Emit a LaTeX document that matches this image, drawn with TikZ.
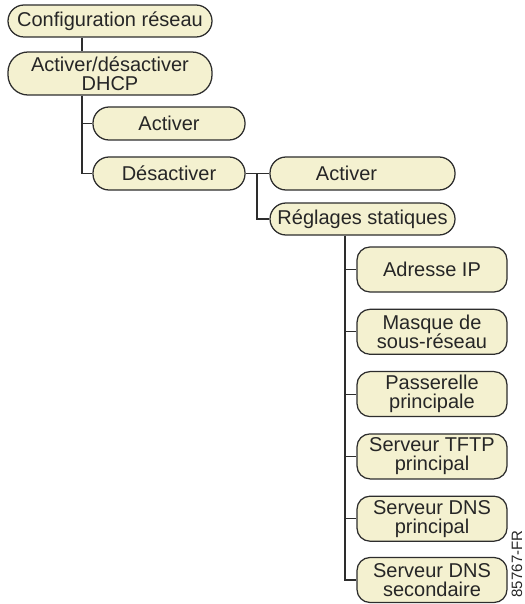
\documentclass[tikz,border=0pt]{standalone}
\usepackage{fontspec}
\setmainfont{Liberation Sans}
\definecolor{boxfill}{RGB}{244,241,208}
\definecolor{linec}{RGB}{45,45,45}
\begin{document}
\begin{tikzpicture}[x=1pt,y=-1pt,
  box/.style={draw=linec, fill=boxfill, line width=1.25pt, align=center,
    font=\fontsize{20}{19}\selectfont, inner sep=0pt, text=black!85},
  pill/.style={box, rounded corners=16pt, minimum height=33pt},
  rbox/.style={box, rounded corners=13pt, minimum width=150pt, minimum height=45pt},
  conn/.style={draw=linec, line width=1.1pt}]
\useasboundingbox (0,0) rectangle (524,604);
\fill[white] (0,0) rectangle (524,604);

\node[pill, minimum width=204pt, minimum height=32pt] (conf) at (110,21) {Configuration réseau};
\node[box, rounded corners=20pt, minimum width=204pt, minimum height=43pt] (dhcp) at (110,73.5) {Activer/désactiver\\DHCP};
\node[pill, minimum width=152pt] (act1) at (169,123.5) {Activer};
\node[pill, minimum width=152pt] (des) at (169,173.5) {Désactiver};
\node[pill, minimum width=185pt] (act2) at (362.5,173.5) {\hspace*{-32pt}Activer};
\node[pill, minimum width=185pt, minimum height=32pt] (regl) at (362.5,219) {Réglages statiques};

\node[rbox] (ip) at (432,269.5) {Adresse IP};
\node[rbox] (masque) at (432,331.8) {Masque de\\sous-réseau};
\node[rbox] (pass) at (432,394.1) {Passerelle\\principale};
\node[rbox] (tftp) at (432,456.4) {Serveur TFTP\\principal};
\node[rbox] (dns1) at (432,518.7) {Serveur DNS\\principal};
\node[rbox] (dns2) at (432,580) {Serveur DNS\\secondaire};

\node[rotate=90, font=\fontsize{15}{16}\selectfont, inner sep=0pt, text=black!85] (code) at (517,564) {85767-FR};

\coordinate (tA) at (82,0);
\coordinate (tB) at (257,0);
\coordinate (tC) at (345,0);

\draw[conn] (conf.south -| tA) -- (dhcp.north -| tA);
\draw[conn] (dhcp.south -| tA) |- (des.west);
\draw[conn] (tA |- act1.west) -- (act1.west);
\draw[conn] (des.east) -- (act2.west);
\draw[conn] (tB |- des.east) |- (regl.west);
\draw[conn] (regl.south -| tC) |- (dns2.west);
\foreach \n in {ip,masque,pass,tftp,dns1}
  \draw[conn] (tC |- \n.west) -- (\n.west);
\end{tikzpicture}
\end{document}
